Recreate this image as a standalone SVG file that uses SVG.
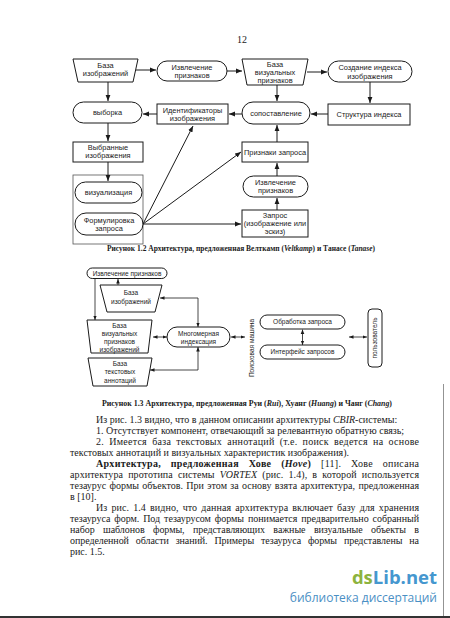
<svg xmlns="http://www.w3.org/2000/svg" width="450" height="618" viewBox="0 0 450 618">
<style>
.b{fill:#fff;stroke:#1a1a1a;stroke-width:1}
.c{fill:none;stroke:#555;stroke-width:0.8}
.ln{fill:none;stroke:#1a1a1a;stroke-width:1}
.ln2{fill:none;stroke:#1a1a1a;stroke-width:0.8}
.t7{font-family:"Liberation Sans",Arial,sans-serif;font-size:7.4px;fill:#1a1a1a;text-anchor:middle}
.t6{font-family:"Liberation Sans",Arial,sans-serif;font-size:6.5px;fill:#1a1a1a;text-anchor:middle}
.cap{font-family:"Liberation Serif","Times New Roman",serif;font-size:7.2px;font-weight:bold;fill:#1a1a1a;text-anchor:middle}
.p{font-family:"Liberation Serif","Times New Roman",serif;font-size:10px;fill:#1a1a1a}
.i{font-style:italic}
.bd{font-weight:bold}
</style>
<defs>
<marker id="a" viewBox="0 0 10 10" refX="10" refY="5" markerWidth="6" markerHeight="6" markerUnits="userSpaceOnUse" orient="auto-start-reverse"><path d="M0,1 L10,5 L0,9z" fill="#1a1a1a"/></marker>
<marker id="s" viewBox="0 0 10 10" refX="10" refY="5" markerWidth="4.5" markerHeight="4.5" markerUnits="userSpaceOnUse" orient="auto-start-reverse"><path d="M0,1 L10,5 L0,9z" fill="#1a1a1a"/></marker>
</defs>
<rect width="450" height="618" fill="#fff"/>
<text x="242" y="43" font-family="Liberation Serif,serif" font-size="10" fill="#1a1a1a" text-anchor="middle">12</text>

<!-- Figure 1.2 -->
<g id="fig12-container"><rect class="c" x="73" y="175" width="70" height="69"/></g>
<g id="n-baza-izobr"><polygon class="b" points="73,59 138,59 133,82 78,82"/><text class="t7" x="105.5" y="67.5">База</text><text class="t7" x="105.5" y="76">изображений</text></g>
<g id="n-izvl1"><rect class="b" x="157" y="61" width="70" height="20" rx="10"/><text class="t7" x="192" y="70">Извлечение</text><text class="t7" x="192" y="78">признаков</text></g>
<g id="n-baza-viz"><polygon class="b" points="242,59 308,59 303,85 247,85"/><text class="t7" x="275" y="66.5">База</text><text class="t7" x="275" y="74.5">визуальных</text><text class="t7" x="275" y="82.5">признаков</text></g>
<g id="n-sozd"><rect class="b" x="328" y="61" width="84" height="21" rx="10.5"/><text class="t7" x="370" y="70">Создание индекса</text><text class="t7" x="370" y="78.5">изображения</text></g>
<g id="n-vyborka"><rect class="b" x="73" y="102" width="69" height="21" rx="10.5"/><text class="t7" x="107.5" y="115">выборка</text></g>
<g id="n-ident"><rect class="b" x="157" y="104" width="71" height="20"/><text class="t7" x="192.5" y="112.5">Идентификаторы</text><text class="t7" x="192.5" y="121">изображения</text></g>
<g id="n-sopost"><rect class="b" x="242" y="102" width="68" height="22" rx="11"/><text class="t7" x="276" y="115.5">сопоставление</text></g>
<g id="n-strukt"><rect class="b" x="328" y="104" width="82" height="21"/><text class="t7" x="369" y="117">Структура индекса</text></g>
<g id="n-vybr"><rect class="b" x="73" y="142" width="70" height="20"/><text class="t7" x="108" y="149.5">Выбранные</text><text class="t7" x="108" y="158">изображения</text></g>
<g id="n-vizual"><rect class="b" x="75" y="182" width="67" height="21" rx="10.5"/><text class="t7" x="108.5" y="195">визуализация</text></g>
<g id="n-formul"><rect class="b" x="75" y="213" width="68" height="22" rx="11"/><text class="t7" x="109" y="222.5">Формулировка</text><text class="t7" x="109" y="231">запроса</text></g>
<g id="n-priznz"><rect class="b" x="242" y="142" width="66" height="20"/><text class="t7" x="275" y="154.5">Признаки запроса</text></g>
<g id="n-izvl2"><rect class="b" x="243" y="176" width="65" height="21" rx="10.5"/><text class="t7" x="275.5" y="185">Извлечение</text><text class="t7" x="275.5" y="193">признаков</text></g>
<g id="n-zapros"><rect class="b" x="242" y="210" width="66" height="27"/><text class="t7" x="275" y="217.5">Запрос</text><text class="t7" x="275" y="226">(изображение или</text><text class="t7" x="275" y="234">эскиз)</text></g>

<g id="connectors-12" class="ln">
<line x1="136" y1="70" x2="156" y2="70" marker-end="url(#a)"/>
<line x1="227" y1="71" x2="242" y2="71" marker-end="url(#a)"/>
<line x1="307" y1="72" x2="327" y2="72" marker-end="url(#a)"/>
<line x1="108" y1="82" x2="108" y2="101" marker-end="url(#a)"/>
<line x1="277" y1="85" x2="277" y2="101" marker-end="url(#a)"/>
<line x1="370" y1="82" x2="370" y2="103" marker-end="url(#a)"/>
<line x1="328" y1="114" x2="311" y2="114" marker-end="url(#a)"/>
<line x1="242" y1="114" x2="229" y2="114" marker-end="url(#a)"/>
<line x1="157" y1="114" x2="143" y2="114" marker-end="url(#a)"/>
<line x1="108" y1="123" x2="108" y2="141" marker-end="url(#a)"/>
<line x1="108" y1="162" x2="108" y2="181" marker-end="url(#a)"/>
<line x1="277" y1="142" x2="277" y2="125" marker-end="url(#a)"/>
<line x1="277" y1="176" x2="277" y2="163" marker-end="url(#a)"/>
<line x1="277" y1="210" x2="277" y2="198" marker-end="url(#a)"/>
<line x1="143" y1="224" x2="193" y2="126" marker-end="url(#a)"/>
<line x1="143" y1="224" x2="241" y2="152" marker-end="url(#a)"/>
<line x1="143" y1="224" x2="241" y2="224" marker-end="url(#a)"/>
</g>
<text class="cap" x="241" y="250.5" textLength="268" lengthAdjust="spacingAndGlyphs">Рисунок 1.2 Архитектура, предложенная Велткамп (<tspan class="i">Veltkamp</tspan>) и Танасе (<tspan class="i">Tanase</tspan>)</text>

<!-- Figure 1.3 -->
<g id="m-izvl"><rect class="b" x="87" y="268" width="80" height="10.5" rx="5.25"/><text class="t6" x="127" y="275.6">Извлечение признаков</text></g>
<g id="m-baza-izobr"><polygon class="b" points="100,285 162,285 155,312 107,312"/><text class="t6" x="131" y="294.5">База</text><text class="t6" x="131" y="304">изображений</text></g>
<g id="m-baza-viz"><polygon class="b" points="87,320 152,320 148,353 91,353"/><text class="t6" x="119.5" y="327.5">База</text><text class="t6" x="119.5" y="335.5">визуальных</text><text class="t6" x="119.5" y="343.5">признаков</text><text class="t6" x="119.5" y="351.5">изображений</text></g>
<g id="m-baza-text"><polygon class="b" points="88,358 152,358 147,386 93,386"/><text class="t6" x="120" y="365.5">База</text><text class="t6" x="120" y="374">текстовых</text><text class="t6" x="120" y="382.5">аннотаций</text></g>
<g id="m-mnogo"><rect class="b" x="167" y="327" width="63" height="20" rx="10"/><text class="t6" x="198.5" y="335.5">Многомерная</text><text class="t6" x="198.5" y="344">индексация</text></g>
<g id="m-poisk"><text class="t6" x="252" y="348" dy="2.3" transform="rotate(-90 252 348)">Поисковая машина</text></g>
<g id="m-obrab"><rect class="b" x="260" y="315" width="85" height="14" rx="7"/><text class="t6" x="302.5" y="324.3">Обработка запроса</text></g>
<g id="m-interf"><rect class="b" x="260" y="345" width="85" height="14" rx="7"/><text class="t6" x="302.5" y="354.3">Интерфейс запросов</text></g>
<g id="m-polz"><rect class="b" x="368" y="309" width="14" height="58" rx="4"/><text class="t6" x="375" y="338" dy="2.3" transform="rotate(-90 375 338)">пользователь</text></g>

<g id="connectors-13" class="ln2">
<line x1="118" y1="285" x2="118" y2="279" marker-end="url(#s)"/>
<line x1="95" y1="278.5" x2="95" y2="320" marker-end="url(#s)"/>
<polyline points="160,298 198,298 198,327" marker-start="url(#s)" marker-end="url(#s)"/>
<polyline points="150,370 198,370 198,347" marker-start="url(#s)" marker-end="url(#s)"/>
<line x1="153" y1="337" x2="167" y2="337" marker-start="url(#s)" marker-end="url(#s)"/>
<line x1="231" y1="337" x2="245" y2="337" marker-start="url(#s)" marker-end="url(#s)"/>
<line x1="302.5" y1="329.5" x2="302.5" y2="345" marker-start="url(#s)" marker-end="url(#s)"/>
<line x1="349" y1="337" x2="367" y2="337" marker-start="url(#s)" marker-end="url(#s)"/>
</g>
<text class="cap" x="247" y="406" font-size="6.8" textLength="290" lengthAdjust="spacingAndGlyphs">Рисунок 1.3 Архитектура, предложенная Руи (<tspan class="i">Rui</tspan>), Хуанг (<tspan class="i">Huang</tspan>) и Чанг (<tspan class="i">Chang</tspan>)</text>

<!-- Body text -->
<text class="p" x="96" y="423">Из рис. 1.3 видно, что в данном описании архитектуры <tspan class="i">CBIR</tspan>-системы:</text>
<text class="p" x="96" y="434">1. Отсутствует компонент, отвечающий за релевантную обратную связь;</text>
<text class="p" x="96" y="445" word-spacing="2.5" textLength="323" lengthAdjust="spacing">2. Имеется база текстовых аннотаций (т.е. поиск ведется на основе</text>
<text class="p" x="70" y="456">текстовых аннотаций и визуальных характеристик изображения).</text>
<text class="p" x="96" y="467" word-spacing="7" textLength="323" lengthAdjust="spacing"><tspan class="bd">Архитектура, предложенная Хове (<tspan class="i">Hove</tspan>)</tspan> [11]. Хове описана</text>
<text class="p" x="70" y="478" word-spacing="2.5" textLength="349" lengthAdjust="spacing">архитектура прототипа системы <tspan class="i">VORTEX</tspan> (рис. 1.4), в которой используется</text>
<text class="p" x="70" y="489" word-spacing="0.8" textLength="349" lengthAdjust="spacing">тезаурус формы объектов. При этом за основу взята архитектура, предложенная</text>
<text class="p" x="70" y="500">в [10].</text>
<text class="p" x="96" y="511" word-spacing="1.5" textLength="323" lengthAdjust="spacing">Из рис. 1.4 видно, что данная архитектура включает базу для хранения</text>
<text class="p" x="70" y="522" word-spacing="1.5" textLength="349" lengthAdjust="spacing">тезауруса форм. Под тезаурусом формы понимается предварительно собранный</text>
<text class="p" x="70" y="533" word-spacing="6" textLength="349" lengthAdjust="spacing">набор шаблонов формы, представляющих важные визуальные объекты в</text>
<text class="p" x="70" y="544" word-spacing="4.5" textLength="349" lengthAdjust="spacing">определенной области знаний. Примеры тезауруса формы представлены на</text>
<text class="p" x="70" y="555">рис. 1.5.</text>

<!-- watermark and scan edges -->
<text x="437" y="584" font-family="Open Sans,Liberation Sans,sans-serif" font-size="18.5" font-weight="bold" text-anchor="end"><tspan fill="#8db33e">ds</tspan><tspan fill="#4597cf">Lib.net</tspan></text>
<text x="437" y="601.5" font-family="Open Sans,Liberation Sans,sans-serif" font-size="12" fill="#4a8fc4" text-anchor="end">библиотека диссертаций</text>
<line x1="443.5" y1="384" x2="443.5" y2="617" stroke="#777" stroke-width="0.8"/>
<line x1="0" y1="617" x2="450" y2="617" stroke="#333" stroke-width="2"/>
</svg>
